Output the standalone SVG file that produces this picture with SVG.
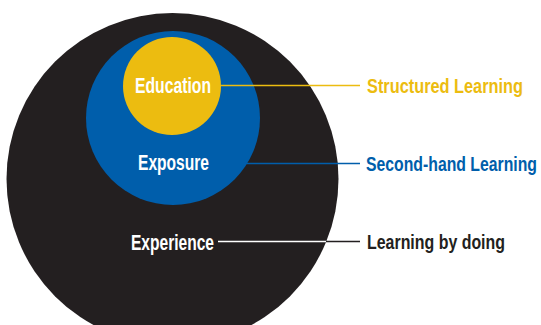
<svg xmlns="http://www.w3.org/2000/svg" width="541" height="325" viewBox="0 0 541 325">
<style>
.lbl{font-family:"Liberation Sans Narrow","Liberation Sans",Arial,sans-serif;font-weight:bold;}
.in{font-size:22px;fill:#ffffff;text-anchor:start;}
.out{font-size:16px;text-anchor:start;}
.conn{stroke-width:1.6;fill:none;}
</style>
<rect width="541" height="325" fill="#ffffff"/>
<g id="experience">
<circle cx="172.5" cy="179" r="166" fill="#231f20"/>
<text class="lbl in" x="131" y="250" textLength="83" lengthAdjust="spacingAndGlyphs">Experience</text>
</g>
<g id="exposure">
<circle cx="173" cy="118" r="87" fill="#005eab"/>
<text class="lbl in" x="138" y="170" textLength="71" lengthAdjust="spacingAndGlyphs">Exposure</text>
</g>
<g id="education">
<circle cx="172" cy="86" r="49" fill="#ecbc10"/>
<text class="lbl in" x="135" y="93" textLength="76" lengthAdjust="spacingAndGlyphs">Education</text>
</g>
<g id="connectors">
<line class="conn" x1="221" y1="85.5" x2="360" y2="85.5" stroke="#ecbc10"/>
<line class="conn" x1="245" y1="163.5" x2="360" y2="163.5" stroke="#005eab"/>
<line class="conn" x1="218" y1="241.5" x2="326" y2="241.5" stroke="#ffffff"/>
<line class="conn" x1="326" y1="241.5" x2="360" y2="241.5" stroke="#231f20"/>
</g>
<g id="label-structured">
<text class="lbl out" transform="translate(367,93) scale(1,1.3)" x="0" y="0" fill="#ecbc10" textLength="156" lengthAdjust="spacingAndGlyphs">Structured Learning</text>
</g>
<g id="label-secondhand">
<text class="lbl out" transform="translate(366,171) scale(1,1.3)" x="0" y="0" fill="#005eab" textLength="171" lengthAdjust="spacingAndGlyphs">Second-hand Learning</text>
</g>
<g id="label-doing">
<text class="lbl out" transform="translate(367,249) scale(1,1.3)" x="0" y="0" fill="#231f20" textLength="138" lengthAdjust="spacingAndGlyphs">Learning by doing</text>
</g>
</svg>
